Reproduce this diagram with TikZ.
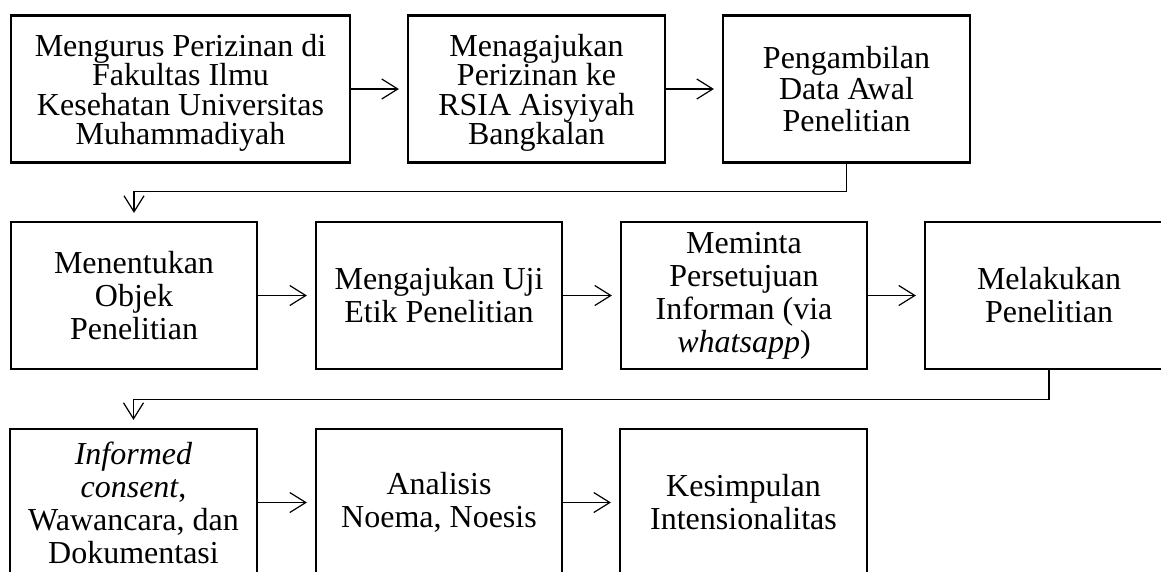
\documentclass[tikz,border=0pt]{standalone}
\usepackage{fontspec}
\setmainfont{Liberation Serif}
\usetikzlibrary{arrows.meta}
\newcommand{\firstup}{\rule{0pt}{30pt}}
\begin{document}
\begin{tikzpicture}[x=1pt,y=-1pt,
  box/.style={draw, line width=2.2pt, align=center, inner sep=0pt, fill=white,
    font=\fontsize{32}{33}\selectfont, minimum height=147pt},
  rowone/.style={font=\fontsize{32}{29.5}\selectfont},
  conn/.style={line width=1.2pt, -{Straight Barb[length=16pt,width=20pt,line width=1.2pt]}, shorten >=8pt}]
\useasboundingbox (0,0) rectangle (1161,571);
\clip (0,0) rectangle (1161,571);
% row 1
\node[box, rowone, minimum width=339pt] (A) at (180.5,89) {\firstup Mengurus Perizinan di\\Fakultas Ilmu\\Kesehatan Universitas\\Muhammadiyah};
\node[box, rowone, minimum width=257pt] (B) at (536.5,89) {\firstup Menagajukan\\Perizinan ke\\RSIA Aisyiyah\\Bangkalan};
\node[box, font=\fontsize{32}{31.5}\selectfont, minimum width=247pt] (C) at (846.5,89) {Pengambilan\\Data Awal\\Penelitian};
% row 2
\node[box, minimum width=246pt] (D) at (134,295.5) {Menentukan\\Objek\\Penelitian};
\node[box, minimum width=246pt] (E) at (439,295.5) {Mengajukan Uji\\Etik Penelitian};
\node[box, minimum width=246pt] (F) at (744,295.5) {Meminta\\Persetujuan\\Informan (via\\\textit{whatsapp})};
\node[box, minimum width=248pt] (G) at (1049,295.5) {Melakukan\\Penelitian};
% row 3
\node[box, minimum width=247pt] (H) at (133.5,502.5) {\textit{Informed}\\\textit{consent},\\Wawancara, dan\\Dokumentasi};
\node[box, minimum width=246pt] (I) at (439,502.5) {Analisis\\Noema, Noesis};
\node[box, minimum width=247pt] (J) at (743.5,502.5) {Kesimpulan\\Intensionalitas};
% connectors
\draw[conn] (A) -- (B);
\draw[conn] (B) -- (C);
\draw[conn] (C.south) -- ++(0,28) -| (D.north);
\draw[conn] (D) -- (E);
\draw[conn] (E) -- (F);
\draw[conn] (F) -- (G);
\draw[conn] (G.south) -- ++(0,29) -| (H.north);
\draw[conn] (H) -- (I);
\draw[conn] (I) -- (J);
\end{tikzpicture}
\end{document}
